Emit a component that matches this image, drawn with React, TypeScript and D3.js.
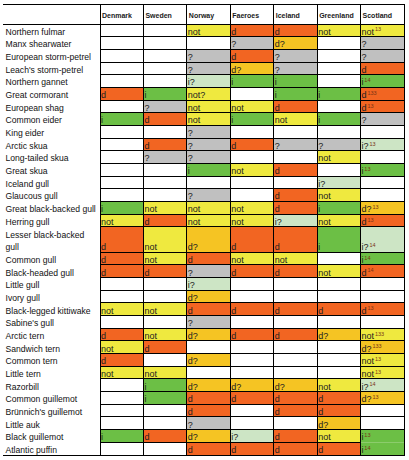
import React from "react";
import * as d3 from "d3";

const countries = ["Denmark", "Sweden", "Norway", "Faeroes", "Iceland", "Greenland", "Scotland"];

const species = [
  "Northern fulmar", "Manx shearwater", "European storm-petrel", "Leach's storm-petrel",
  "Northern gannet", "Great cormorant", "European shag", "Common eider", "King eider",
  "Arctic skua", "Long-tailed skua", "Great skua", "Iceland gull", "Glaucous gull",
  "Great black-backed gull", "Herring gull", "Lesser black-backed gull", "Common gull",
  "Black-headed gull", "Little gull", "Ivory gull", "Black-legged kittiwake", "Sabine's gull",
  "Arctic tern", "Sandwich tern", "Common tern", "Little tern", "Razorbill",
  "Common guillemot", "Brünnich's guillemot", "Little auk", "Black guillemot", "Atlantic puffin",
];

// row height in units (Lesser black-backed gull wraps onto two lines)
const rowUnits = species.map((s) => (s === "Lesser black-backed gull" ? 2 : 1));

// status per species: Denmark, Sweden, Norway, Faeroes, Iceland, Greenland, Scotland
const status = [
  ["", "", "not", "d", "d", "not", "not"],
  ["", "", "", "?", "d?", "", "?"],
  ["", "", "?", "d", "?", "", "?"],
  ["", "", "?", "d?", "?", "", "d"],
  ["", "", "i?", "i", "i", "", "i"],
  ["d", "i", "not?", "", "i", "i", "d"],
  ["", "?", "not", "not", "d", "", "d"],
  ["i", "d", "not", "i", "not", "i", "?"],
  ["", "", "?", "", "", "", ""],
  ["", "d", "?", "d", "?", "?", "i?"],
  ["", "?", "?", "", "", "not", ""],
  ["", "", "i", "not", "d", "", "i"],
  ["", "", "", "", "", "i?", ""],
  ["", "", "?", "", "d", "not", ""],
  ["i", "not", "not", "not", "d", "i", "d?"],
  ["not", "d", "not", "not", "i?", "not", "d"],
  ["d", "not", "d?", "d", "d", "i", "i?"],
  ["d", "not", "d", "not", "not", "", "i"],
  ["d", "d", "?", "d", "d", "not", "d"],
  ["", "", "i?", "", "", "", ""],
  ["", "", "d?", "", "", "", ""],
  ["not", "not", "d", "d", "d", "d", "d"],
  ["", "", "?", "", "", "", ""],
  ["d", "not", "d?", "d", "d", "d?", "not"],
  ["not", "d", "", "", "", "", "d?"],
  ["d", "", "d?", "", "", "", "not"],
  ["not", "not", "", "", "", "", "not"],
  ["", "i", "d?", "d?", "d?", "not", "i?"],
  ["", "i", "d", "d", "d", "d", "d?"],
  ["", "", "d", "", "d", "d", ""],
  ["", "", "?", "", "", "d?", ""],
  ["i", "d", "d?", "i?", "d", "not", "i"],
  ["", "", "d", "d", "d", "d", "i"],
];

// footnote references in the Scotland column
const scotlandNotes = [
  "13", "", "", "", "14", "133", "13", "", "", "13", "", "13", "", "",
  "13", "13", "14", "14", "14", "", "", "13", "", "133", "133", "13", "13",
  "14", "13", "", "", "13", "14",
];

const statusKeys = ["d", "d?", "not", "not?", "?", "i", "i?"];
const statusColors = ["#F26522", "#F5C423", "#EFE93F", "#EFE93F", "#C0C0C0", "#6CBF45", "#CDE5C5"];

const W = 409;
const H = 460;
const FONT = "Liberation Sans, Arial, sans-serif";

export default function App() {
  const x = d3.scaleBand<string>().domain(countries).range([100, 404]);
  const totalUnits = d3.sum(rowUnits);
  const y = d3.scaleLinear().domain([0, totalUnits]).range([24, 455]);
  const color = d3.scaleOrdinal<string, string>().domain(statusKeys).range(statusColors);

  const starts = rowUnits.map((_, i) => d3.sum(rowUnits.slice(0, i)));
  const rows = species.map((s, i) => ({
    name: s,
    y0: y(starts[i]),
    y1: y(starts[i] + rowUnits[i]),
    values: status[i],
    note: scotlandNotes[i],
  }));

  const bw = x.bandwidth();
  const left = 3;
  const right = 404;

  return (
    <svg
      width={W}
      height={H}
      style={{ position: "absolute", left: 0, top: 0, background: "#fff" }}
      fontFamily={FONT}
    >
      {/* cell fills */}
      {rows.map((r, i) =>
        r.values.map((v, j) =>
          v ? (
            <rect
              key={`c${i}-${j}`}
              x={x(countries[j])}
              y={r.y0}
              width={bw}
              height={r.y1 - r.y0}
              fill={color(v)}
            />
          ) : null
        )
      )}

      {/* header */}
      {countries.map((c) => (
        <text
          key={c}
          x={(x(c) as number) + 2}
          y={17.5}
          fontSize={7}
          fontWeight="bold"
          fill="#1a1a1a"
        >
          {c}
        </text>
      ))}

      {/* row labels */}
      {rows.map((r) =>
        r.name === "Lesser black-backed gull" ? (
          <text key={r.name} x={5.5} fontSize={8.6} fill="#111">
            <tspan x={5.5} y={r.y1 - 14.3}>Lesser black-backed</tspan>
            <tspan x={5.5} y={r.y1 - 2}>gull</tspan>
          </text>
        ) : (
          <text key={r.name} x={5.5} y={r.y1 - 2} fontSize={8.6} fill="#111">
            {r.name}
          </text>
        )
      )}

      {/* cell texts */}
      {rows.map((r, i) =>
        r.values.map((v, j) =>
          v ? (
            <text
              key={`t${i}-${j}`}
              x={(x(countries[j]) as number) + 1}
              y={r.y1 - 2}
              fontSize={9}
              fill="#222"
            >
              {v}
              {j === countries.length - 1 && r.note ? (
                <tspan fontSize={5.5} dx={0.8} dy={-3.2} fill="#7a3416">
                  {r.note}
                </tspan>
              ) : null}
            </text>
          ) : null
        )
      )}

      {/* grid lines */}
      <g stroke="#000" strokeWidth={1} shapeRendering="crispEdges">
        <line x1={left} x2={right} y1={4} y2={4} />
        <line x1={left} x2={right} y1={24} y2={24} />
        <line x1={left} x2={right} y1={455.5} y2={455.5} />
        {rows.slice(0, -1).map((r, i) => (
          <line
            key={`h${i}`}
            x1={100}
            x2={r.name === "Black guillemot" ? (x("Scotland") as number) : right}
            y1={r.y1}
            y2={r.y1}
          />
        ))}
        {countries.map((c) => (
          <line key={`v${c}`} x1={x(c) as number} x2={x(c) as number} y1={4} y2={455.5} />
        ))}
        <line x1={right} x2={right} y1={4} y2={455.5} />
      </g>
    </svg>
  );
}
